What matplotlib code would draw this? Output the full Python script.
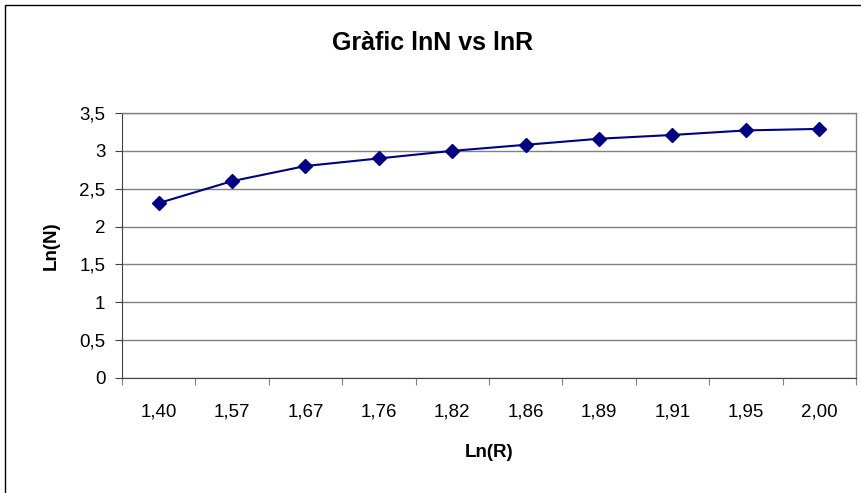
import matplotlib
matplotlib.use("Agg")
import matplotlib.pyplot as plt
from matplotlib.patches import Rectangle

categories = ["1,40", "1,57", "1,67", "1,76", "1,82", "1,86", "1,89", "1,91", "1,95", "2,00"]
ln_n = [2.31, 2.60, 2.80, 2.90, 3.00, 3.08, 3.16, 3.21, 3.27, 3.29]
y_ticks = [0, 0.5, 1, 1.5, 2, 2.5, 3, 3.5]
y_labels = ["0", "0,5", "1", "1,5", "2", "2,5", "3", "3,5"]

plt.rcParams['font.family'] = ['Liberation Sans', 'DejaVu Sans']

W, H = 862, 493
fig = plt.figure(figsize=(W / 100, H / 100), dpi=100)
ax = fig.add_axes([122 / W, 1 - 378 / H, (856 - 122) / W, (378 - 113) / H])

# outer chart border
fig.patches.append(Rectangle((5 / W, -0.01), 1.0, 1 - 5 / H + 0.01, transform=fig.transFigure,
                             fill=False, edgecolor='black', linewidth=1.0))

x = [i + 0.5 for i in range(len(categories))]
ax.plot(x, ln_n, color='#000080', linewidth=1.5, marker='D', markersize=7.5,
        markerfacecolor='#000080', markeredgecolor='#000080', zorder=3)

ax.set_xlim(0, len(categories))
ax.set_ylim(0, 3.5)
ax.set_yticks(y_ticks)
ax.set_yticklabels(y_labels, fontsize=13.5)
ax.set_xticks(range(len(categories) + 1))
ax.set_xticklabels([])
ax.set_xticks(x, minor=True)
ax.set_xticklabels(categories, minor=True, fontsize=13.5)
ax.tick_params(axis='x', which='major', length=5, direction='out', color='#808080')
ax.tick_params(axis='x', which='minor', length=0, pad=18.5)
ax.tick_params(axis='y', length=5, direction='out', color='#404040', pad=7)

ax.grid(axis='y', color='#808080', linewidth=1.0)
ax.set_axisbelow(True)
for s in ['top', 'right']:
    ax.spines[s].set_color('#808080')
    ax.spines[s].set_linewidth(1.0)
ax.spines['left'].set_color('#404040')
ax.spines['bottom'].set_color('#404040')

ax.set_xlabel("Ln(R)", fontsize=13.5, fontweight='bold', labelpad=17)
ax.set_ylabel("Ln(N)", fontsize=13.5, fontweight='bold', labelpad=14)

fig.text(433 / W, 1 - 43 / H, "Gràfic lnN vs lnR", fontsize=18, fontweight='bold',
         ha='center', va='center')

fig.savefig("out.png", dpi=100)
